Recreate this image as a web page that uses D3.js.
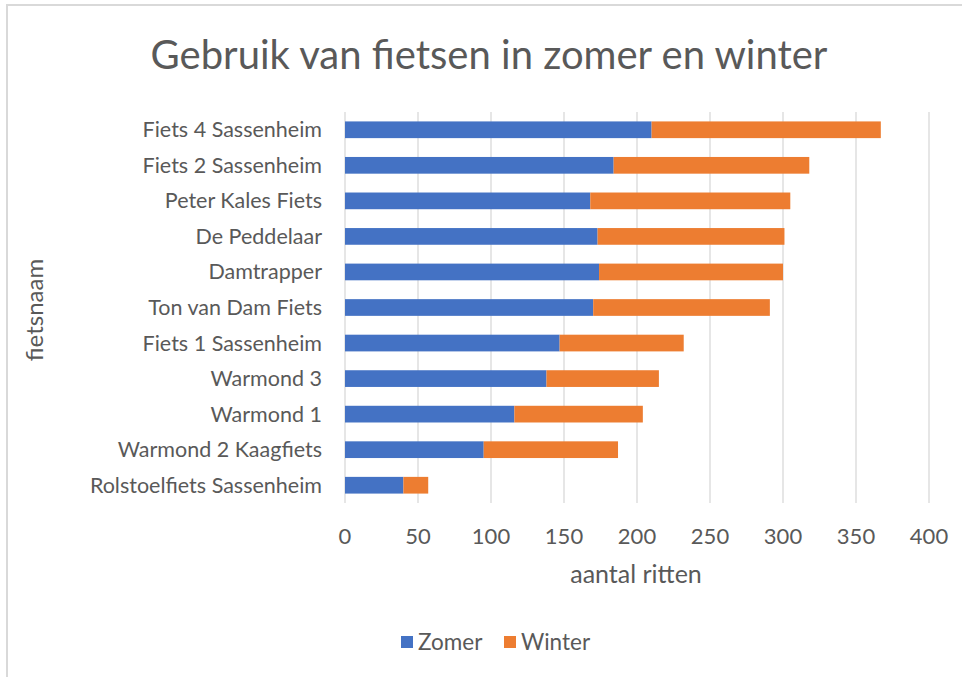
<!DOCTYPE html>
<html>
<head>
<meta charset="utf-8">
<script src="https://cdn.jsdelivr.net/npm/d3@7"></script>
<style>
  body { margin: 0; background: #fff; }
  text { font-family: Lato, "Open Sans", sans-serif; fill: #595959; }
</style>
</head>
<body>
<div class="chart"></div>
<script>
// data, top to bottom as in the chart
const fietsen = ["Fiets 4 Sassenheim", "Fiets 2 Sassenheim", "Peter Kales Fiets", "De Peddelaar",
  "Damtrapper", "Ton van Dam Fiets", "Fiets 1 Sassenheim", "Warmond 3", "Warmond 1",
  "Warmond 2 Kaagfiets", "Rolstoelfiets Sassenheim"];
const zomer  = [210, 184, 168, 173, 174, 170, 147, 138, 116, 95, 40];
const winter = [157, 134, 137, 128, 126, 121, 85, 77, 88, 92, 17];
const series = ["Zomer", "Winter"];
const kleuren = ["#4472c4", "#ed7d31"];
const xTicks = [0, 50, 100, 150, 200, 250, 300, 350, 400];

function create_chart(){
	const width = 962;
	const height = 677;
	const svg = d3.select('.chart')
		.append('svg')
		.attr('width', width)
		.attr('height', height)

	// chart border
	svg.append("rect")
		.attr("x", 7).attr("y", 5)
		.attr("width", 1000).attr("height", 720)
		.attr("fill", "none")
		.attr("stroke", "#d9d9d9")
		.attr("stroke-width", 2)

	const x = d3.scaleLinear().domain([0, 400]).range([345, 929])
	const y = d3.scaleBand().domain(fietsen).range([112, 503]).paddingInner(0.53).paddingOuter(0.265)

	// gridlines
	svg.selectAll(".grid")
		.data(xTicks)
		.enter()
		.append("line")
		.attr("x1", d => x(d)).attr("x2", d => x(d))
		.attr("y1", 112).attr("y2", 503)
		.attr("stroke", "#d9d9d9")
		.attr("stroke-width", 1.3)

	const rows = fietsen.map((f, i) => ({naam: f, Zomer: zomer[i], Winter: winter[i]}))
	const stacked = d3.stack().keys(series)(rows)

	svg.selectAll("g.serie")
		.data(stacked)
		.enter()
		.append("g")
		.attr("fill", (d, i) => kleuren[i])
		.selectAll("rect")
		.data(d => d)
		.enter()
		.append("rect")
		.attr("x", d => x(d[0]))
		.attr("y", d => y(d.data.naam))
		.attr("width", d => x(d[1]) - x(d[0]))
		.attr("height", y.bandwidth())

	// category labels
	svg.selectAll(".cat")
		.data(fietsen)
		.enter()
		.append("text")
		.attr("text-anchor", "end")
		.attr("x", 322)
		.attr("y", d => y(d) + y.bandwidth() / 2)
		.attr("dy", "0.35em")
		.attr("font-size", "21.5px")
		.text(d => d)

	// x tick labels
	svg.selectAll(".tick")
		.data(xTicks)
		.enter()
		.append("text")
		.attr("text-anchor", "middle")
		.attr("x", d => x(d))
		.attr("y", 544)
		.attr("font-size", "22px")
		.text(d => d)

	// title
	svg.append("text")
		.attr("text-anchor", "middle")
		.attr("x", 489).attr("y", 69)
		.attr("font-size", "40px")
		.text("Gebruik van fietsen in zomer en winter")

	// axis titles
	svg.append("text")
		.attr("text-anchor", "middle")
		.attr("x", 636).attr("y", 583)
		.attr("font-size", "25px")
		.text("aantal ritten")

	svg.append("text")
		.attr("text-anchor", "middle")
		.attr("transform", "translate(43,310) rotate(-90)")
		.attr("font-size", "24px")
		.text("fietsnaam")

	// legend
	const legend = svg.selectAll(".legend")
		.data(series)
		.enter()
		.append("g")
		.attr("transform", (d, i) => `translate(${i === 0 ? 401 : 504},0)`)
	legend.append("rect")
		.attr("x", 0).attr("y", 636)
		.attr("width", 12).attr("height", 12)
		.attr("fill", (d, i) => kleuren[i])
	legend.append("text")
		.attr("x", 17).attr("y", 642)
		.attr("dy", "0.35em")
		.attr("font-size", "22.5px")
		.text(d => d)
}

create_chart();
</script>
</body>
</html>
